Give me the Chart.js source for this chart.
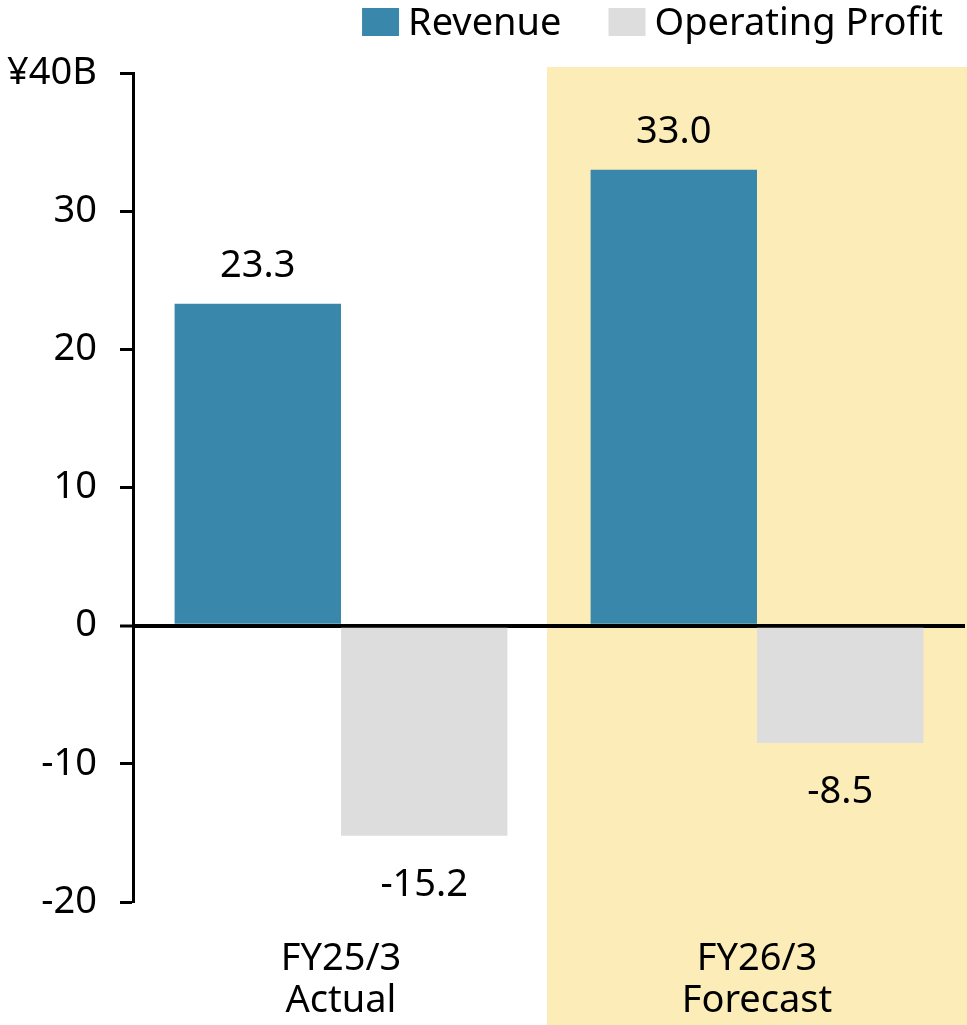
<!DOCTYPE html>
<html>
<head>
<meta charset="utf-8">
<script src="https://cdn.jsdelivr.net/npm/chart.js@4"></script>
<style>
html,body{margin:0;padding:0;background:#fff;}
canvas{display:block;}
</style>
</head>
<body>
<canvas id="c" width="967" height="1025"></canvas>
<script>
const categories = [['FY25/3', 'Actual'], ['FY26/3', 'Forecast']];
const revenue = [23.3, 33.0];
const operatingProfit = [-15.2, -8.5];
const seriesNames = ['Revenue', 'Operating Profit'];
const yMin = -20, yMax = 40, yStep = 10;
const topTickLabel = '¥40B';
const highlightIndex = 1;

const FONT = "'Noto Sans', sans-serif";
const FS = 38;
const BLUE = '#3987AB';
const GRAY = '#DDDDDD';
const YELLOW = '#FCECB7';

const highlightPlugin = {
  id: 'highlight',
  beforeDraw(chart) {
    const xs = chart.scales.x;
    const w = xs.width / chart.data.labels.length;
    const left = xs.getPixelForValue(highlightIndex) - w / 2 - 2;
    const top = chart.chartArea.top - 6;
    const ctx = chart.ctx;
    ctx.save();
    ctx.fillStyle = YELLOW;
    ctx.fillRect(left, top, chart.width - left, chart.height - top);
    ctx.restore();
  }
};

const valueLabelPlugin = {
  id: 'valueLabels',
  afterDraw(chart) {
    const ctx = chart.ctx;
    ctx.save();
    ctx.font = FS + 'px ' + FONT;
    ctx.fillStyle = '#000';
    ctx.textAlign = 'center';
    ctx.textBaseline = 'alphabetic';
    chart.data.datasets.forEach((ds, i) => {
      const meta = chart.getDatasetMeta(i);
      meta.data.forEach((bar, j) => {
        const v = ds.data[j];
        ctx.fillText(v.toFixed(1), bar.x, v >= 0 ? bar.y - 27 : bar.y + 60);
      });
    });
    ctx.restore();
  }
};

const legendPlugin = {
  id: 'customLegend',
  afterDraw(chart) {
    const ctx = chart.ctx;
    ctx.save();
    ctx.font = FS + 'px ' + FONT;
    const boxW = 37, boxH = 28, gapText = 9, gapItem = 47;
    const items = chart.data.datasets.map(ds => ({ label: ds.label, color: ds.backgroundColor, w: ctx.measureText(ds.label).width }));
    let total = 0;
    items.forEach((it, i) => { total += boxW + gapText + it.w + (i < items.length - 1 ? gapItem : 0); });
    let x = 943 - total;
    const cy = 22;
    ctx.textBaseline = 'middle';
    ctx.textAlign = 'left';
    items.forEach(it => {
      ctx.fillStyle = it.color;
      ctx.fillRect(x, cy - boxH / 2, boxW, boxH);
      ctx.fillStyle = '#000';
      ctx.fillText(it.label, x + boxW + gapText, cy + 2);
      x += boxW + gapText + it.w + gapItem;
    });
    ctx.restore();
  }
};

new Chart(document.getElementById('c'), {
  type: 'bar',
  data: {
    labels: categories,
    datasets: [
      { label: seriesNames[0], data: revenue, backgroundColor: BLUE, borderWidth: 0 },
      { label: seriesNames[1], data: operatingProfit, backgroundColor: GRAY, borderWidth: 0 }
    ]
  },
  options: {
    responsive: false,
    animation: false,
    devicePixelRatio: 1,
    layout: { padding: { top: 73, right: 2, left: 0, bottom: 0 } },
    datasets: { bar: { categoryPercentage: 0.8, barPercentage: 1.0 } },
    plugins: { legend: { display: false }, tooltip: { enabled: false } },
    scales: {
      x: {
        grid: { display: false, drawTicks: false },
        border: { display: false },
        ticks: { font: { family: FONT, size: FS, lineHeight: 1.1 }, color: '#000', padding: 36 },
        afterFit(s) { s.height = 123; }
      },
      y: {
        min: yMin, max: yMax,
        z: 1,
        border: { display: true, color: '#000', width: 3 },
        grid: {
          drawTicks: true,
          tickLength: 13,
          tickWidth: 3,
          tickColor: '#000',
          color: c => (c.tick && c.tick.value === 0) ? '#000' : 'rgba(0,0,0,0)',
          lineWidth: c => (c.tick && c.tick.value === 0) ? 4 : 1
        },
        ticks: {
          stepSize: yStep,
          font: { family: FONT, size: FS },
          color: '#000',
          padding: 23,
          callback: v => v === yMax ? topTickLabel : String(v)
        },
        afterFit(s) { s.width = 133; }
      }
    }
  },
  plugins: [highlightPlugin, valueLabelPlugin, legendPlugin]
});
</script>
</body>
</html>
